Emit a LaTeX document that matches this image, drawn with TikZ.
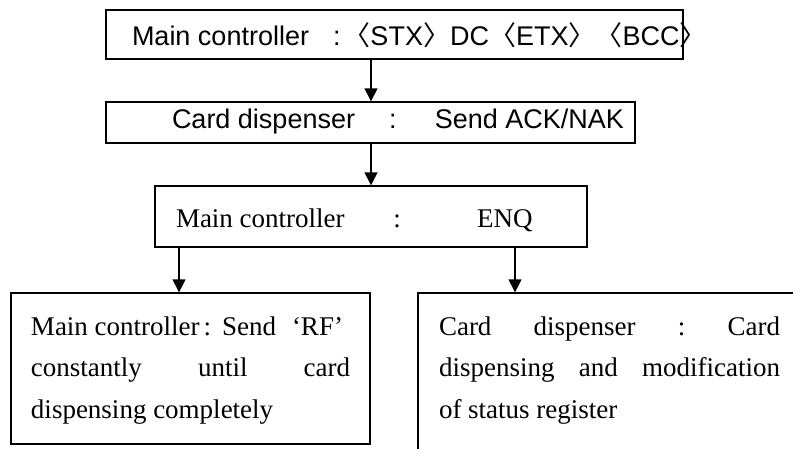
\documentclass[tikz,border=0pt]{standalone}
\usepackage{fontspec}
\usetikzlibrary{arrows.meta}
\newfontfamily\arialf{Liberation Sans}
\newfontfamily\timesf{Liberation Serif}
\newfontfamily\cjkf{Noto Sans CJK TC}
\newcommand\putat[2]{\makebox[0pt][l]{\hspace{#1}#2}}
\newcommand\putc[2]{\makebox[0pt][l]{\hspace{#1}\makebox[0pt][c]{#2}}}
\newcommand\putr[2]{\makebox[0pt][l]{\hspace{#1}\makebox[0pt][r]{#2}}}
\tikzset{
  box/.style={draw=black, line width=1.4pt, inner sep=0pt, rectangle},
  arr/.style={draw=black, line width=1.4pt, -{Triangle[length=13pt,width=13pt]}},
  sansfont/.style={font=\arialf\fontsize{27}{32}\selectfont},
  seriffont/.style={font=\timesf\fontsize{27}{41.5}\selectfont},
}
\begin{document}
\begin{tikzpicture}[x=1pt,y=-1pt]
\useasboundingbox (0,0) rectangle (793,448);
\clip (0,0) rectangle (793,448);
% box 1: 106..683 x 10..59
\node[box, sansfont, minimum width=577pt, minimum height=49pt, text height=23pt, text depth=2pt] (b1) at (394.5,34.5)
  {\makebox[577pt][l]{\putat{26pt}{Main controller}\putc{231pt}{:}\putat{237.5pt}{{\cjkf 〈}STX{\cjkf 〉}DC{\cjkf 〈}ETX{\cjkf 〉〈}BCC{\cjkf 〉}}}};
% box 2: 106..635 x 102..143
\node[box, sansfont, minimum width=529pt, minimum height=41pt, text height=14pt, text depth=3pt] (b2) at (370.5,122.5)
  {\makebox[529pt][l]{\putat{66pt}{Card dispenser}\putc{287pt}{:}\putr{518pt}{Send ACK/NAK}}};
% box 3: 155..587 x 186..247
\node[box, seriffont, minimum width=432pt, minimum height=61pt, text height=23pt, text depth=2pt] (b3) at (371,216.5)
  {\makebox[432pt][l]{\putat{21pt}{Main controller}\putc{242pt}{:}\putat{322pt}{ENQ}}};
% left box: 11..370 x 293..444
\node[box, seriffont, minimum width=359pt, minimum height=151pt, text height=5pt, text depth=72pt] (lb) at (190.5,368.5)
  {\makebox[359pt][l]{\hspace{20pt}\vtop{\baselineskip=41.5pt
   \hbox to 312pt{Main controller\hspace{4pt}:\hspace{11pt}Send\hfill‘RF’}
   \hbox to 319pt{constantly\hfill until\hfill card}
   \hbox{dispensing completely}}}};
% right box: 418..(818) x 293..(470)
\node[box, seriffont, minimum width=400pt, minimum height=177pt, text height=5pt, text depth=98pt] (rb) at (618,381.5)
  {\makebox[400pt][l]{\hspace{21pt}\vtop{\baselineskip=41.5pt
   \hbox to 341pt{Card\hfill dispenser\hfill :\hfill Card}
   \hbox to 341pt{dispensing\hfill and\hfill modification}
   \hbox{of status register}}}};
\coordinate (lx) at (179,0);
\coordinate (rx) at (515,0);
\draw[arr] (b1.south -| b3.north) -- (b2.north -| b3.north);
\draw[arr] (b2.south -| b3.north) -- (b3.north);
\draw[arr] (b3.south -| lx) -- (lb.north -| lx);
\draw[arr] (b3.south -| rx) -- (rb.north -| rx);
\end{tikzpicture}
\end{document}
